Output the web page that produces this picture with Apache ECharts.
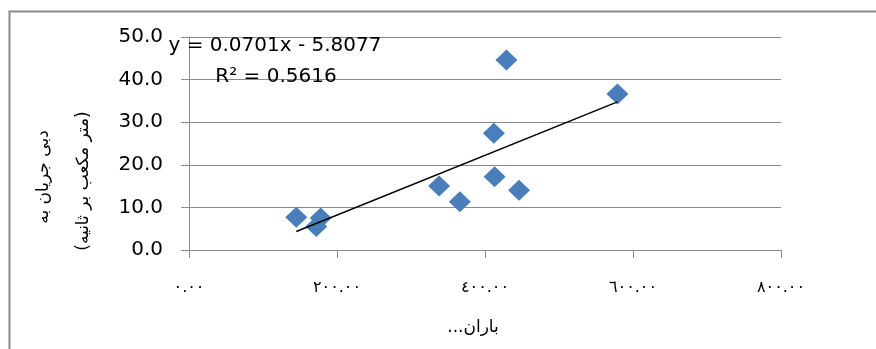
<!DOCTYPE html>
<html>
<head>
<meta charset="utf-8">
<script src="https://cdn.jsdelivr.net/npm/echarts@6/dist/echarts.min.js"></script>
<style>
html,body{margin:0;padding:0;background:#fff;}
#c{width:876px;height:349px;}
</style>
</head>
<body>
<div id="c"></div>
<script>
// Data
var rainfall = [145, 172, 178, 338, 366, 412, 413, 429, 446, 579];
var discharge = [7.7, 5.5, 7.5, 15.0, 11.3, 27.4, 17.2, 44.6, 14.0, 36.6];
var xTickLabels = ['٠.٠٠', '٢٠٠.٠٠', '٤٠٠.٠٠', '٦٠٠.٠٠', '٨٠٠.٠٠'];
var yTickLabels = ['0.0', '10.0', '20.0', '30.0', '40.0', '50.0'];
var trendSlope = 0.0701;
var trendIntercept = -5.8077;
var equationText = 'y = 0.0701x - 5.8077';
var r2Text = 'R² = 0.5616';
var yTitleLine1 = 'دبی جریان به';
var yTitleLine2 = '(متر مکعب بر ثانیه)';
var xTitle = 'باران...';

function rtl(s) { return '\u202B' + s + '\u202C'; }

var points = rainfall.map(function (x, i) { return [x, discharge[i]]; });
var xMin = Math.min.apply(null, rainfall);
var xMax = Math.max.apply(null, rainfall);
var trend = [[xMin, trendSlope * xMin + trendIntercept], [xMax, trendSlope * xMax + trendIntercept]];

var chart = echarts.init(document.getElementById('c'), null, {renderer: 'canvas'});
var gray = '#8a8a8a';
chart.setOption({
  animation: false,
  backgroundColor: '#fff',
  grid: {left: 189, right: 95, top: 37, bottom: 99, containLabel: false},
  xAxis: {
    type: 'value', min: 0, max: 800, interval: 200,
    axisLine: {show: true, onZero: false, lineStyle: {color: gray, width: 1}},
    axisTick: {show: true, inside: false, length: 8, lineStyle: {color: gray}},
    splitLine: {show: false},
    axisLabel: {
      margin: 30, fontSize: 16, color: '#000', fontFamily: 'DejaVu Sans',
      formatter: function (v) { return xTickLabels[Math.round(v / 200)]; }
    }
  },
  yAxis: {
    type: 'value', min: 0, max: 50, interval: 10,
    axisLine: {show: true, lineStyle: {color: gray, width: 1}},
    axisTick: {show: true, inside: false, length: 8, lineStyle: {color: gray}},
    splitLine: {show: true, lineStyle: {color: gray, width: 1}},
    axisLabel: {
      margin: 26, fontSize: 20, color: '#000', fontFamily: 'DejaVu Sans',
      formatter: function (v) { return yTickLabels[Math.round(v / 10)]; }
    }
  },
  series: [
    {
      type: 'scatter', data: points, symbol: 'diamond', symbolSize: [22, 21],
      itemStyle: {color: '#4a7ebb', opacity: 1}, z: 3
    },
    {
      type: 'line', data: trend, showSymbol: false, symbol: 'none',
      lineStyle: {color: '#000', width: 1.5}, z: 4
    }
  ],
  graphic: [
    {type: 'rect', shape: {x: 9.5, y: 11.5, width: 900, height: 400},
     style: {fill: null, stroke: gray, lineWidth: 2}, silent: true},
    {type: 'text', x: 275, y: 46, z: 10,
     style: {text: equationText, fontSize: 20, fontFamily: 'DejaVu Sans', fill: '#000', align: 'center', verticalAlign: 'middle'}},
    {type: 'text', x: 276, y: 77, z: 10,
     style: {text: r2Text, fontSize: 20, fontFamily: 'DejaVu Sans', fill: '#000', align: 'center', verticalAlign: 'middle'}},
    {type: 'text', x: 44, y: 177, rotation: Math.PI / 2,
     style: {text: rtl(yTitleLine1), fontSize: 17, fontFamily: 'DejaVu Sans', fill: '#000', align: 'center', verticalAlign: 'middle'}},
    {type: 'text', x: 84, y: 181, rotation: Math.PI / 2,
     style: {text: rtl(yTitleLine2), fontSize: 17, fontFamily: 'DejaVu Sans', fill: '#000', align: 'center', verticalAlign: 'middle'}},
    {type: 'text', x: 473, y: 328,
     style: {text: rtl(xTitle), fontSize: 17, fontFamily: 'DejaVu Sans', fill: '#000', align: 'center', verticalAlign: 'middle'}}
  ]
});
</script>
</body>
</html>
